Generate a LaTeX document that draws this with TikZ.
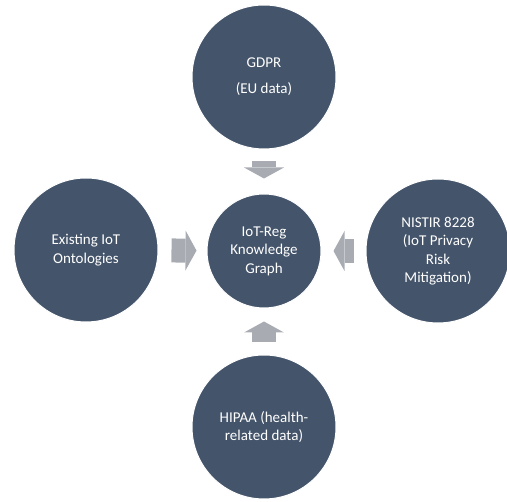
\documentclass[tikz,border=0pt]{standalone}
\usepackage{fontspec}
\setmainfont{Carlito}
\usetikzlibrary{arrows.meta}
\definecolor{slate}{HTML}{44546A}
\definecolor{feedgray}{HTML}{A8ACB2}
\begin{document}
\begin{tikzpicture}[x=1pt, y=-1pt,
  disc/.style={circle, fill=slate, draw=white, line width=1pt, text=white,
    align=center, inner sep=0pt, font=\fontsize{15}{18.5}\selectfont},
  outer/.style={disc, minimum size=144pt},
  hub/.style={disc, minimum size=114pt},
  feed/.style={feedgray, line width=24pt,
    -{Triangle[width=40pt, length=11pt, line width=0pt]}}]
  \useasboundingbox (0, 0) rectangle (507, 502);
  \node [hub] (kg) at (264, 251) {IoT-Reg\\Knowledge\\Graph};
  \node [outer] (gdpr) at (264, 77) {GDPR\\[7.5pt](EU data)};
  \node [outer] (onto) at (86, 250) {Existing IoT\\Ontologies};
  \node [outer] (nistir) at (438, 251) {NISTIR 8228\\(IoT Privacy\\Risk\\Mitigation)};
  \node [outer] (hipaa) at (264, 427) {HIPAA (health-\\related data)};
  \draw [feed, shorten <=12pt, shorten >=15pt] (gdpr) -- (kg);
  \draw [feed, shorten <=13pt, shorten >=10pt] (onto) -- (kg);
  \draw [feed, shorten <=12pt, shorten >=12pt] (nistir) -- (kg);
  \draw [feed, shorten <=12pt, shorten >=13pt] (hipaa) -- (kg);
\end{tikzpicture}
\end{document}
